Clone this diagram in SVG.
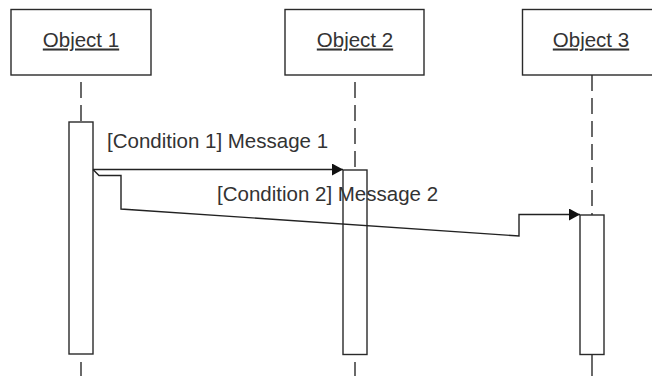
<svg xmlns="http://www.w3.org/2000/svg" width="652" height="376" viewBox="0 0 652 376">
  <style>
    .box { fill: #ffffff; stroke: #2a2a2a; stroke-width: 1.4; }
    .bar { fill: #ffffff; stroke: #2a2a2a; stroke-width: 1.4; }
    .life { stroke: #2a2a2a; stroke-width: 1.4; fill: none; }
    .dash { stroke-dasharray: 16 7; }
    .msg { stroke: #222222; stroke-width: 1.4; fill: none; marker-end: url(#arrow); }
    .label { font-family: "Liberation Sans", Arial, sans-serif; font-size: 20.5px; fill: #333333; }
    .name { text-anchor: middle; text-decoration: underline; }
  </style>
  <defs>
    <marker id="arrow" markerUnits="userSpaceOnUse" markerWidth="12" markerHeight="13" refX="11" refY="6" orient="auto">
      <path d="M0,0 L11,6 L0,12 z" fill="#111111"/>
    </marker>
  </defs>
  <rect width="652" height="376" fill="#ffffff"/>

  <!-- object 1: header, lifeline, activation -->
  <g id="object1">
    <rect class="box" x="11" y="9.5" width="140" height="65.5"/>
    <text class="label name" x="81" y="46.5">Object 1</text>
    <line class="life dash" x1="81" y1="75" x2="81" y2="122" stroke-dashoffset="16"/>
    <rect class="bar" x="69" y="122" width="24" height="232"/>
    <line class="life" x1="81" y1="362" x2="81" y2="376"/>
  </g>

  <!-- object 2 -->
  <g id="object2">
    <rect class="box" x="285" y="9.5" width="139" height="65.5"/>
    <text class="label name" x="355" y="46.5">Object 2</text>
    <line class="life dash" x1="355" y1="75" x2="355" y2="170" stroke-dashoffset="16"/>
    <rect class="bar" x="343" y="170" width="24" height="184.5"/>
    <line class="life" x1="355" y1="362" x2="355" y2="376"/>
  </g>

  <!-- object 3 (header runs off the right edge) -->
  <g id="object3">
    <rect class="box" x="522.5" y="9.5" width="139" height="65.5"/>
    <text class="label name" x="591" y="46.5">Object 3</text>
    <line class="life dash" x1="592" y1="75" x2="592" y2="215"/>
    <rect class="bar" x="580" y="215" width="24" height="139.5"/>
    <line class="life" x1="592" y1="354.5" x2="592" y2="376"/>
  </g>

  <!-- messages -->
  <g id="connectors">
    <path class="msg" d="M93,169.5 L343,169.5"/>
    <path class="msg" d="M93,169.5 L99,175.5 L121,175.5 L121,209 L519,236 L519,214.5 L580,214.5"/>
  </g>

  <g id="labels">
    <text class="label" x="107" y="147.5">[Condition 1] Message 1</text>
    <text class="label" x="217" y="200.5">[Condition 2] Message 2</text>
  </g>
</svg>
